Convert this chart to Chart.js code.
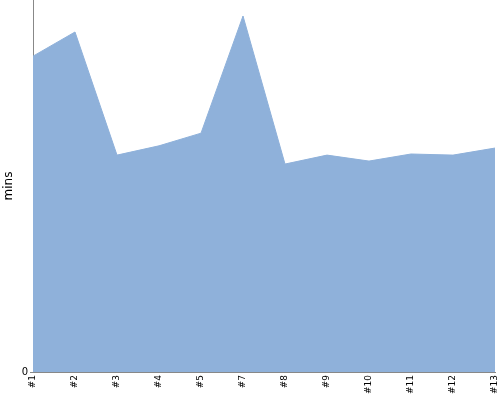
<!DOCTYPE html>
<html>
<head>
<meta charset="utf-8">
<script src="https://cdn.jsdelivr.net/npm/chart.js@4"></script>
<style>
  html, body { margin: 0; padding: 0; background: #fff; }
  #wrap { width: 500px; height: 400px; }
</style>
</head>
<body>
<div id="wrap"><canvas id="chart"></canvas></div>
<script>
const runLabels = ['#1', '#2', '#3', '#4', '#5', '#7', '#8', '#9', '#10', '#11', '#12', '#13'];
const runMinutes = [84.9, 91.4, 58.3, 60.8, 64.2, 95.7, 55.9, 58.3, 56.7, 58.6, 58.3, 60.2];
const yMax = 100;

Chart.defaults.font.family = 'DejaVu Sans';
Chart.defaults.color = '#000';

new Chart(document.getElementById('chart'), {
    type: 'line',
    data: {
        labels: runLabels,
        datasets: [{
            data: runMinutes,
            fill: 'origin',
            backgroundColor: '#8FB1DA',
            borderColor: '#8FB1DA',
            borderWidth: 1,
            pointRadius: 0,
            tension: 0,
        }],
    },
    options: {
        responsive: true,
        maintainAspectRatio: false,
        animation: false,
        layout: { padding: { top: 0, right: 5, bottom: 0, left: 0 } },
        plugins: {
            legend: { display: false },
            tooltip: { enabled: false },
        },
        scales: {
            x: {
                offset: false,
                grid: { display: false, drawTicks: false },
                border: { display: true, color: '#888' },
                ticks: { minRotation: 90, maxRotation: 90, autoSkip: false, padding: 3, font: { size: 9 } },
                afterFit: axis => {
                    axis.height = 28;
                    axis.paddingLeft = 0;
                    axis.paddingRight = 0;
                },
            },
            y: {
                min: 0,
                max: yMax,
                grid: { drawOnChartArea: false, drawTicks: true, tickLength: 3, color: '#888' },
                border: { display: true, color: '#888' },
                ticks: { padding: 2, font: { size: 10 } },
                afterBuildTicks: axis => { axis.ticks = axis.ticks.filter(t => t.value === 0); },
                title: { display: true, text: 'mins', font: { size: 12 }, padding: 2 },
                afterFit: axis => {
                    axis.width = 33;
                    axis.paddingTop = 0;
                    axis.paddingBottom = 0;
                },
            },
        },
    },
});
</script>
</body>
</html>
